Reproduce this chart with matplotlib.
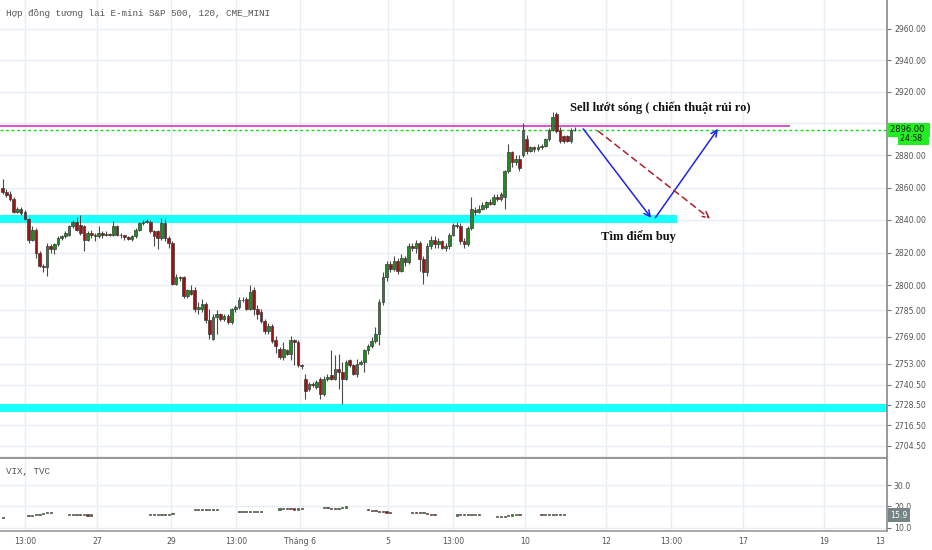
import matplotlib
matplotlib.use('Agg')
import matplotlib.pyplot as plt
import matplotlib.ticker as mticker
import matplotlib.transforms as mtrans
import numpy as np

# ---- data: E-mini S&P 500, 120 min bars ----
opens = [2860, 2857, 2856, 2853, 2845, 2847, 2845, 2840.5, 2828, 2834,
         2820, 2812, 2811, 2824, 2822, 2825, 2829, 2830, 2831, 2836,
         2839, 2837, 2836, 2828, 2832, 2831, 2830, 2832, 2831, 2831.5,
         2831, 2836, 2831, 2830.5, 2829.5, 2828.5, 2830, 2834, 2838, 2839,
         2839, 2833, 2833, 2829, 2838, 2829, 2826, 2801, 2805, 2805,
         2793.5, 2797.5, 2797, 2786, 2786, 2789, 2779, 2768, 2781, 2782.5,
         2779.5, 2781.5, 2778, 2785.5, 2787, 2791, 2792, 2786, 2797, 2786,
         2784, 2778.5, 2772.5, 2775.5, 2767, 2762, 2757, 2761, 2759, 2767,
         2766, 2752, 2744, 2738, 2741, 2739, 2744, 2735, 2744, 2746,
         2744, 2750, 2748, 2744, 2755, 2752, 2747, 2753, 2754, 2761,
         2763.5, 2766.5, 2770.5, 2790, 2805, 2813, 2810, 2815, 2809, 2817,
         2814, 2824, 2823, 2826, 2816, 2808, 2824, 2828, 2825, 2827,
         2823, 2824, 2831, 2837, 2836, 2827, 2825, 2835, 2846, 2845,
         2847, 2848, 2851, 2850, 2854, 2853, 2854, 2870, 2882, 2876,
         2878, 2880, 2890, 2883, 2885, 2884, 2885, 2886, 2890, 2896,
         2906, 2896, 2892, 2892, 2889, 2896]
highs = [2865.5, 2859, 2858, 2854, 2848, 2848, 2846, 2841, 2836, 2835,
         2821, 2813, 2826, 2825, 2826, 2830, 2831, 2833, 2837, 2840,
         2842, 2843, 2837, 2833, 2834, 2832, 2836, 2833, 2833, 2832,
         2839.5, 2837, 2832, 2831, 2830, 2831, 2835, 2839, 2840, 2840.5,
         2840, 2834, 2834, 2841.5, 2840.5, 2830, 2827, 2807, 2806, 2806,
         2798, 2800, 2799, 2790, 2792, 2790, 2786, 2783, 2785, 2783.5,
         2782.5, 2782.5, 2786.5, 2788, 2793, 2793, 2793, 2800, 2799, 2788,
         2786, 2779.5, 2777.5, 2776.5, 2769.5, 2763, 2766, 2762, 2769.5, 2768,
         2767, 2753, 2747, 2742, 2742, 2743, 2745, 2745.5, 2747, 2761,
         2758, 2759, 2754, 2755, 2756, 2753, 2756, 2755, 2762, 2764.5,
         2769, 2775, 2792, 2808, 2815, 2815, 2818, 2817, 2819, 2818,
         2826, 2826, 2828, 2827, 2818, 2826, 2830, 2830, 2829, 2828,
         2826, 2832, 2838, 2839, 2838, 2829, 2836, 2854, 2848, 2849,
         2851, 2852, 2853, 2856, 2856, 2857, 2871, 2887, 2883, 2880,
         2880, 2900, 2893, 2886, 2886, 2887, 2887, 2891, 2897, 2907.5,
         2907.5, 2898, 2893, 2893, 2897, 2897.5]
lows = [2856, 2854, 2852, 2844, 2844, 2843, 2840, 2826, 2827, 2817,
        2811, 2808, 2806, 2820, 2819, 2824, 2828, 2829, 2830, 2835,
        2833, 2831, 2821, 2827, 2829, 2827, 2829, 2829, 2830, 2830,
        2830, 2830, 2829, 2828, 2827.5, 2827, 2829, 2833, 2837, 2838,
        2832, 2824, 2822, 2828, 2827, 2823, 2800, 2800, 2803, 2792.5,
        2792.5, 2794, 2784, 2783, 2784, 2777.5, 2767.5, 2767, 2771, 2778.5,
        2778.5, 2776.5, 2776.5, 2784, 2786, 2790, 2785, 2785, 2782, 2780,
        2777.5, 2770.5, 2771, 2765.5, 2759.5, 2756, 2755, 2758, 2755, 2752,
        2751, 2750, 2732, 2737, 2739, 2738, 2732, 2734, 2742.5, 2743,
        2743, 2738, 2729, 2743, 2751, 2746, 2745, 2752, 2748, 2759,
        2762.5, 2765.5, 2764, 2788, 2803, 2808, 2809, 2807, 2808, 2812,
        2813, 2821, 2820, 2809, 2801, 2806, 2822, 2823, 2823, 2822,
        2821, 2822, 2830, 2835, 2825, 2823, 2824, 2834, 2843, 2844,
        2846, 2847, 2849, 2849, 2852, 2852, 2847, 2869, 2873, 2874,
        2870, 2879, 2881, 2882, 2882, 2883, 2884, 2885, 2889, 2895,
        2894, 2888, 2888, 2888.5, 2888, 2895]
closes = [2857, 2855.5, 2853, 2845, 2847, 2844, 2840.5, 2828, 2834, 2820,
          2812, 2811, 2824, 2822, 2825, 2829, 2830, 2832, 2836, 2839,
          2834, 2832, 2828, 2832, 2831, 2830, 2832, 2831, 2831.5, 2830.5,
          2836, 2831, 2830.5, 2829.5, 2828.5, 2830, 2834, 2838, 2839, 2839.5,
          2833, 2830, 2829, 2838, 2829, 2826, 2801, 2805, 2804.5, 2793.5,
          2797, 2795, 2786, 2787, 2789, 2779, 2771, 2781, 2782.5, 2780,
          2781.5, 2778, 2785.5, 2787, 2791, 2791.5, 2786, 2796, 2786, 2783,
          2778.5, 2772.5, 2775.5, 2766.5, 2763.5, 2757, 2762, 2759, 2767, 2766,
          2752, 2751.5, 2737, 2741, 2740, 2742, 2735, 2744, 2745, 2744,
          2750, 2748, 2744, 2754, 2752, 2747, 2753, 2754, 2761, 2763.5,
          2766.5, 2770.5, 2790, 2805, 2813, 2810, 2815, 2809, 2817, 2814,
          2824, 2823, 2826, 2816, 2808, 2824, 2828, 2825, 2827, 2823,
          2824, 2831, 2837, 2836, 2827, 2825, 2835, 2847, 2845, 2847,
          2849, 2851, 2850, 2854, 2853, 2856, 2870, 2882, 2876, 2878,
          2872, 2896, 2883, 2885, 2884, 2885.5, 2886, 2890, 2896, 2904,
          2895, 2889, 2889, 2889, 2896, 2896]

# VIX (TVC) small pane: bar index, open, close
vix_idx = [0,
           7, 8, 9, 10, 11, 12, 13,
           18, 19, 20, 21, 22, 23, 24,
           40, 41, 42, 43, 44, 45, 46,
           52, 53, 54, 55, 56, 57, 58,
           64, 65, 66, 67, 68, 69, 70,
           75, 76, 77, 78, 79, 80, 81,
           87, 88, 89, 90, 91, 92, 93,
           99, 100, 101, 102, 103, 104, 105,
           111, 112, 113, 114, 115, 116, 117,
           123, 124, 125, 126, 127, 128, 129,
           134, 135, 136, 137, 138, 139, 140,
           146, 147, 148, 149, 150, 151, 152]
vix_open = [15.0,
            15.4, 15.6, 15.9, 16.2, 16.5, 16.9, 17.2,
            16.0, 16.2, 16.0, 16.1, 15.9, 16.0, 15.8,
            16.2, 16.4, 16.0, 16.1, 16.3, 16.2, 16.6,
            18.4, 18.6, 18.4, 18.5, 18.3, 18.4, 18.2,
            17.5, 17.3, 17.4, 17.3, 17.4, 17.5, 17.6,
            18.6, 18.9, 19.4, 19.0, 18.7, 18.6, 18.8,
            19.4, 19.6, 19.3, 19.0, 18.8, 19.2, 19.5,
            18.4, 18.2, 18.0, 17.8, 17.6, 17.4, 17.2,
            17.3, 17.1, 17.0, 16.8, 16.9, 16.5, 16.2,
            15.8, 16.0, 15.9, 16.0, 15.9, 15.9, 16.0,
            15.3, 15.4, 15.3, 15.6, 15.8, 16.0, 16.2,
            16.2, 16.1, 16.0, 16.0, 15.9, 16.0, 15.9]
vix_close = [14.7,
             15.6, 15.9, 16.2, 16.5, 16.9, 17.2, 17.0,
             16.2, 16.0, 16.1, 15.9, 16.0, 15.8, 15.9,
             16.4, 16.0, 16.1, 16.3, 16.2, 16.6, 17.0,
             18.6, 18.4, 18.5, 18.3, 18.4, 18.2, 18.3,
             17.3, 17.4, 17.3, 17.4, 17.5, 17.6, 17.8,
             18.9, 19.4, 19.0, 18.7, 18.6, 18.8, 18.7,
             19.6, 19.3, 19.0, 18.8, 19.2, 19.5, 19.6,
             18.2, 18.0, 17.8, 17.6, 17.4, 17.2, 17.1,
             17.1, 17.0, 16.8, 16.9, 16.5, 16.2, 15.9,
             16.0, 15.9, 16.0, 15.9, 15.9, 16.0, 15.9,
             15.4, 15.3, 15.6, 15.8, 16.0, 16.2, 16.1,
             16.1, 16.0, 16.0, 15.9, 16.0, 15.9, 15.9]

price_ticks = [2960, 2940, 2920, 2880, 2860, 2840, 2820, 2800, 2785,
               2769, 2753, 2740.5, 2728.5, 2716.5, 2704.5]
hidden_tick = 2900   # grid line only, its label sits under the price box
vix_ticks = [30, 20, 10]
xtick_pos = [6.0, 25.6, 45.6, 63.2, 80.6, 104.4, 122.0, 141.5, 163.5, 181.1,
             200.6, 222.6]
xtick_labels = ['13:00', '27', '29', '13:00', 'Tháng 6', '5', '13:00', '10',
                '12', '13:00', '17', '19']

last_price = 2896.0
resist_level = 2898.5          # magenta line
support_top = (2838.2, 2843.1)  # cyan band 1
support_low = (2724.4, 2729.1)  # cyan band 2

GREEN = '#1e8c1e'
RED = '#9e1212'
EDGE = '#3a3a3a'
GRID = '#e8eef3'
TXT = '#555555'
MONO = ['Liberation Mono', 'DejaVu Sans Mono', 'DejaVu Sans']

fig = plt.figure(figsize=(9.32, 5.5), dpi=100)
ax = fig.add_axes([0, 1 - 458 / 550, 887 / 932, 458 / 550])
axv = fig.add_axes([0, 19 / 550, 887 / 932, 72 / 550], sharex=ax)

x = np.arange(len(closes))
o = np.array(opens)
c = np.array(closes)
col = np.where(c >= o, GREEN, RED)

ax.set_yscale('log')
ax.set_xlim(-0.73, 239.6)
ax.set_ylim(2697.3, 2978.6)

# support / resistance drawings
ax.fill_between([-0.73, 182.7], support_top[0], support_top[1], color='#19ffff', lw=0, zorder=1)
ax.fill_between([-0.73, 239.6], support_low[0], support_low[1], color='#19ffff', lw=0, zorder=1)
ax.axhline(hidden_tick, color=GRID, lw=1, zorder=0)
ax.hlines(resist_level, -0.73, 213.4, color='#dd44cc', lw=1.3, zorder=2)
ax.axhline(last_price, color='#11dd11', lw=1.0, ls=(0, (2, 2)), zorder=2)

# candles
ax.vlines(x, lows, highs, color='#4a4a4a', lw=0.8, zorder=3)
ax.bar(x, np.abs(c - o), bottom=np.minimum(o, c), width=0.72, color=col,
       edgecolor=EDGE, linewidth=0.5, zorder=4)

# arrows
blue = dict(arrowstyle='->', color='#1f22ee', lw=1.1, shrinkA=0, shrinkB=0, mutation_scale=11)
ax.annotate('', xy=(175.7, 2841.3), xytext=(157.3, 2896.6), arrowprops=blue, zorder=5)
ax.annotate('', xy=(193.8, 2896.6), xytext=(176.8, 2841.3), arrowprops=blue, zorder=5)
ax.annotate('', xy=(191.7, 2840.7), xytext=(161.3, 2895.3),
            arrowprops=dict(arrowstyle='->', color='#b01c2c', lw=1.1, ls=(0, (4, 3)),
                            shrinkA=0, shrinkB=0, mutation_scale=11), zorder=5)

ax.text(178.1, 2909.8, 'Sell lướt sóng ( chiến thuật rủi ro)', ha='center', va='center',
        fontsize=9.0, fontweight='bold', family='Liberation Serif', color='#111111')
ax.text(172.3, 2829.6, 'Tìm điểm buy', ha='center', va='center',
        fontsize=9.0, fontweight='bold', family='Liberation Serif', color='#111111')

# axes styling (main)
ax.yaxis.set_major_locator(mticker.FixedLocator(price_ticks))
ax.yaxis.set_minor_locator(mticker.NullLocator())
ax.yaxis.set_major_formatter(mticker.FuncFormatter(lambda v, p: '%.2f' % v))
ax.yaxis.tick_right()
ax.tick_params(axis='y', direction='out', length=3, width=0.8, color='#777777', pad=2,
               labelsize=5.6, labelcolor=TXT)
ax.set_xticks(xtick_pos)
ax.tick_params(axis='x', length=0, labelbottom=False)
ax.grid(True, color=GRID, lw=1)
ax.set_axisbelow(True)
for s in ['top', 'left']:
    ax.spines[s].set_visible(False)
ax.spines['right'].set_color('#888888')
ax.spines['right'].set_linewidth(1.2)
ax.spines['bottom'].set_color('#999999')
ax.spines['bottom'].set_linewidth(1.6)

blend = mtrans.blended_transform_factory(fig.transFigure, ax.transData)
ax.text(890 / 932, last_price, '2896.00 ', transform=blend, ha='left', va='center',
        fontsize=6.0, color='#111111', clip_on=False, zorder=10,
        bbox=dict(boxstyle='square,pad=0.3', fc='#22ee22', ec='none'))
ax.text(900 / 932, 2890.6, '24:58  ', transform=blend, ha='left', va='center',
        fontsize=5.6, color='#111111', clip_on=False, zorder=10,
        bbox=dict(boxstyle='square,pad=0.2', fc='#22ee22', ec='none'))

# VIX pane
vo = np.array(vix_open)
vc = np.array(vix_close)
vcol = np.where(vc >= vo, GREEN, RED)
axv.bar(vix_idx, np.maximum(np.abs(vc - vo), 0.5), bottom=np.minimum(vo, vc), width=0.6,
        color=vcol, edgecolor='#333333', linewidth=0.4, zorder=3)
axv.set_ylim(8.6, 42.1)
axv.yaxis.set_major_locator(mticker.FixedLocator(vix_ticks))
axv.yaxis.set_major_formatter(mticker.FuncFormatter(lambda v, p: '%.1f' % v))
axv.yaxis.tick_right()
axv.tick_params(axis='y', direction='out', length=3, width=0.8, color='#777777', pad=2,
                labelsize=5.6, labelcolor=TXT)
axv.set_xticks(xtick_pos)
axv.set_xticklabels(xtick_labels)
axv.tick_params(axis='x', length=0, pad=4, labelsize=5.6, labelcolor=TXT)
axv.grid(True, color=GRID, lw=1)
axv.set_axisbelow(True)
for s in ['top', 'left']:
    axv.spines[s].set_visible(False)
axv.spines['right'].set_color('#888888')
axv.spines['right'].set_linewidth(1.2)
axv.spines['bottom'].set_color('#999999')
axv.spines['bottom'].set_linewidth(1.2)

vblend = mtrans.blended_transform_factory(fig.transFigure, axv.transData)
axv.text(890 / 932, vix_close[-1], '15.9', transform=vblend, ha='left', va='center',
         fontsize=5.6, color='white', clip_on=False, zorder=10,
         bbox=dict(boxstyle='square,pad=0.3', fc='#758585', ec='none'))

# clipped "13" label at the right edge
t13 = fig.text(880 / 932, 1 - 541 / 550, '13', ha='center', va='center', fontsize=5.6, color=TXT)
t13.set_clip_box(mtrans.TransformedBbox(mtrans.Bbox([[0, 0], [886 / 932, 1]]), fig.transFigure))
t13.set_clip_on(True)

fig.text(6 / 932, 1 - 14 / 550, 'Hợp đồng tương lai E-mini S&P 500, 120, CME_MINI',
         ha='left', va='center', fontsize=6.7, family=MONO, color=TXT)
fig.text(6 / 932, 1 - 471 / 550, 'VIX, TVC', ha='left', va='center', fontsize=6.7,
         family=MONO, color=TXT)

fig.savefig('out.png', dpi=100)
